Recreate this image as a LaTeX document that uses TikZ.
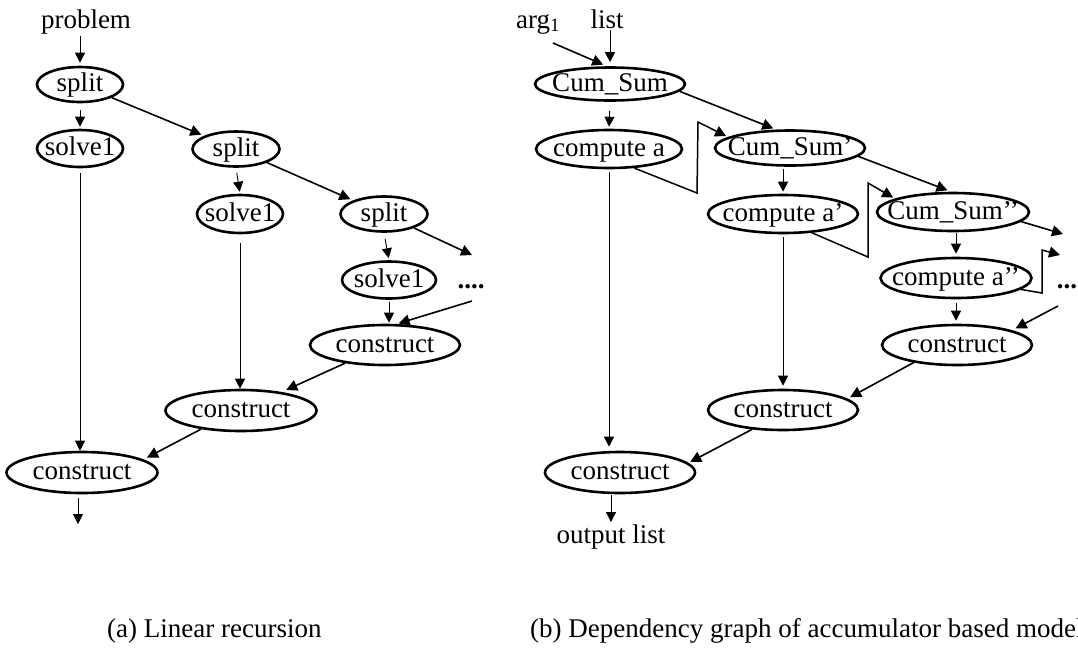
\documentclass[tikz,border=0pt]{standalone}
\usepackage{fontspec}
\setmainfont{Liberation Serif}
\usetikzlibrary{arrows.meta,shapes.geometric}
% text inside an oval takes no room, so the oval keeps its own size
\newcommand{\ovaltext}[1]{\raisebox{-7pt}[0pt][0pt]{\makebox[0pt]{#1}}}
\begin{document}
\begin{tikzpicture}[x=1pt,y=-1pt,
  font=\fontsize{27}{31}\selectfont,
  oval/.style 2 args={draw, ellipse, line width=2.6pt, inner sep=0pt,
    minimum width=#1, minimum height=#2},
  txt/.style={inner sep=2pt},
  arr/.style={line width=1.6pt, -{Triangle[length=11pt,width=11pt]}},
  thinarr/.style={line width=0.9pt, -{Triangle[length=10pt,width=10pt]}},
  zig/.style={line width=1.5pt, line join=miter, -{Triangle[length=11pt,width=11pt]}}]
\fill[white] (0,0) rectangle (1078,649);
\useasboundingbox (0,0) rectangle (1078,649);

% ---------- (a) linear recursion ----------
\node[txt, anchor=base] (problem) at (86,28) {problem};
\node[oval={86pt}{35pt}] (s1) at (80,84.5) {\ovaltext{split}};
\node[oval={86pt}{37pt}] (v1) at (80,148.5) {\ovaltext{solve1}};
\node[oval={87pt}{35pt}] (s2) at (236,149) {\ovaltext{split}};
\node[oval={86pt}{38pt}] (v2) at (240,214) {\ovaltext{solve1}};
\node[oval={87pt}{35pt}] (s3) at (384,214) {\ovaltext{split}};
\node[oval={94pt}{37pt}] (v3) at (389,280) {\ovaltext{solve1}};
\node[oval={150pt}{40pt}] (c3) at (385,345) {\ovaltext{construct}};
\node[oval={151pt}{41pt}] (c2) at (241,410.5) {\ovaltext{construct}};
\node[oval={151pt}{41pt}] (c1) at (82,472.5) {\ovaltext{construct}};
\node[anchor=base, inner sep=0pt] (dotsA) at (471,288) {\bfseries ....};
\coordinate (endA) at (472,255);
\coordinate (startA) at (472,301);
\coordinate (outA) at (78,524);

\draw[thinarr, shorten >=3pt] (problem.south -| s1.north) -- (s1.north);
\draw[thinarr, shorten <=7pt, shorten >=2pt] (s1.south) -- (v1.north);
\draw[arr, shorten >=3pt] (s1) -- (s2);
\draw[thinarr, shorten <=5pt, shorten >=2pt] (s2.south) -- (v2.north);
\draw[arr, shorten >=3pt] (s2) -- (s3);
\draw[arr] (s3) -- (endA);
\draw[thinarr, shorten <=6pt, shorten >=2pt] (s3.south) -- (v3.north);
\draw[arr, shorten >=2pt] (startA) -- (c3.61);
\draw[thinarr, shorten <=2pt, shorten >=1pt] (v3.south) -- (v3.south |- c3.north);
\draw[arr, shorten >=5pt] (c3) -- (c2);
\draw[arr, shorten >=4pt] (c2.205) -- (c1.12);
\draw[thinarr, shorten <=5pt] (v1.south) -- (v1.south |- c1.north);
\draw[thinarr, shorten <=9pt] (v2.south) -- (v2.south |- c2.north);
\draw[thinarr, shorten <=4pt] (c1.south -| outA) -- (outA);

\node[anchor=base west, inner sep=0pt] (capA) at (107,637) {(a) Linear recursion};

% ---------- (b) accumulator based model ----------
\node[txt, anchor=base] (arg) at (538,28) {arg\textsubscript{1}};
\node[txt, anchor=base] (list) at (607,28) {list};
\node[oval={150pt}{33pt}] (cs0) at (610,84) {\ovaltext{Cum\_Sum}};
\node[oval={146pt}{38pt}] (ca0) at (609,149) {\ovaltext{compute a}};
\node[oval={150pt}{35pt}] (cs1) at (790,148) {\ovaltext{Cum\_Sum’}};
\node[oval={150pt}{38pt}] (ca1) at (783,214) {\ovaltext{compute a’}};
\node[oval={152pt}{38pt}] (cs2) at (953,212) {\ovaltext{Cum\_Sum’’}};
\node[oval={151pt}{40pt}] (ca2) at (956,278) {\ovaltext{compute a’’}};
\node[oval={150pt}{40pt}] (k3) at (957,345) {\ovaltext{construct}};
\node[oval={150pt}{40pt}] (k2) at (783,410) {\ovaltext{construct}};
\node[oval={150pt}{41pt}] (k1) at (620,472.5) {\ovaltext{construct}};
\node[txt, anchor=base] (outl) at (611,543) {output list};
\node[anchor=base, inner sep=0pt] (dotsB) at (1067,288) {\bfseries ...};

\coordinate (argtail) at (553,43);
\coordinate (z1a) at (697,193);
\coordinate (z1b) at (698,122);
\coordinate (z2a) at (868,257);
\coordinate (z2b) at (868,183);
\coordinate (z3a) at (1042,293);
\coordinate (z3b) at (1042,250);
\coordinate (z3c) at (1060,255);
\coordinate (cs2out) at (1063,234);
\coordinate (k3in) at (1058,306);

\draw[arr, shorten >=4pt] (argtail) -- (cs0.100);
\draw[thinarr, shorten >=4pt] (cs0.north |- list.south) -- (cs0.north);
\draw[thinarr, shorten <=9pt, shorten >=2pt] (cs0.south) -- (ca0.north);
\draw[arr, shorten >=3pt] (cs0.-6) -- (cs1.127);
\draw[zig, shorten >=2pt] (ca0.-37) -- (z1a) -- (z1b) -- (cs1.170);
\draw[thinarr, shorten <=2pt, shorten >=2pt] (ca1.north |- cs1.south) -- (ca1.north);
\draw[thinarr, shorten <=3pt, shorten >=4pt] (ca0.south) -- (ca0.south |- k1.north);
\draw[arr, shorten >=4pt] (cs1.-7) -- (cs2.95);
\draw[zig, shorten >=2pt] (ca1.-33) -- (z2a) -- (z2b) -- (cs2.167);
\draw[thinarr, shorten <=1pt, shorten >=3pt] (ca2.north |- cs2.south) -- (ca2.north);
\draw[arr] (cs2.-8) -- (cs2out);
\draw[zig] (ca2.-10) -- (z3a) -- (z3b) -- (z3c);
\draw[thinarr, shorten <=4pt, shorten >=3pt] (ca2.south) -- (ca2.south |- k3.north);
\draw[arr, shorten >=4pt] (k3in) -- (k3.15);
\draw[thinarr, shorten <=3pt, shorten >=3pt] (ca1.south) -- (ca1.south |- k2.north);
\draw[arr, shorten >=3pt] (k3.-158) -- (k2.10);
\draw[arr, shorten >=2pt] (k2.-148) -- (k1.8);
\draw[thinarr, shorten <=1pt] (k1.south -| outl.north) -- (outl.north);

% the caption runs on past the right edge of the page
\node[anchor=base west, inner sep=0pt] (capB) at (530,637) {(b) Dependency graph of accumulator based model};
\end{tikzpicture}
\end{document}
